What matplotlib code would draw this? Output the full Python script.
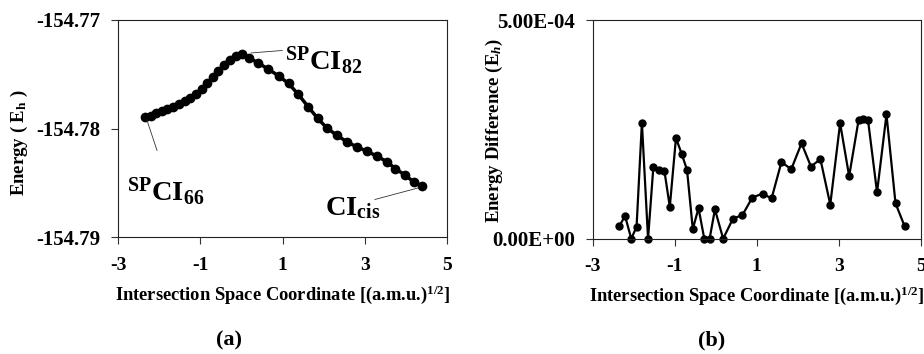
import matplotlib
matplotlib.use('Agg')
import matplotlib.pyplot as plt

plt.rcParams['font.family'] = ['Liberation Serif', 'DejaVu Serif']
plt.rcParams['font.weight'] = 'bold'
plt.rcParams['mathtext.fontset'] = 'custom'
plt.rcParams['mathtext.rm'] = 'Liberation Serif:bold'
plt.rcParams['mathtext.bf'] = 'Liberation Serif:bold'
plt.rcParams['mathtext.it'] = 'Liberation Serif:italic:bold'
plt.rcParams['mathtext.default'] = 'bf'

# ---- Panel (a): energy along intersection space coordinate ----
coord_a = [-2.35, -2.21, -2.07, -1.93, -1.80, -1.66, -1.52, -1.38, -1.25,
           -1.11, -0.97, -0.83, -0.69, -0.56, -0.42, -0.28, -0.14, 0.00,
           0.18, 0.41, 0.65, 0.90, 1.14, 1.38, 1.62, 1.85, 2.07, 2.31,
           2.56, 2.80, 3.04, 3.29, 3.53, 3.73, 3.97, 4.18, 4.38]
energy_a = [-154.77893, -154.77881, -154.77862, -154.77838, -154.77823,
            -154.77801, -154.77774, -154.77746, -154.77719, -154.77682,
            -154.77636, -154.77581, -154.77526, -154.77471, -154.77413,
            -154.77367, -154.77336, -154.77318,
            -154.77352, -154.77400, -154.77456, -154.77517, -154.77587,
            -154.77688, -154.77802, -154.77908, -154.77995, -154.78061,
            -154.78123, -154.78169, -154.78208, -154.78254, -154.78306,
            -154.78367, -154.78428, -154.78490, -154.78526]

# ---- Panel (b): energy difference ----
coord_b = [-2.35, -2.21, -2.06, -1.93, -1.80, -1.65, -1.52, -1.39, -1.25,
           -1.12, -0.97, -0.83, -0.70, -0.56, -0.42, -0.28, -0.15, -0.02,
           0.18, 0.42, 0.65, 0.89, 1.14, 1.36, 1.60, 1.84, 2.09, 2.32,
           2.55, 2.79, 3.03, 3.25, 3.48, 3.59, 3.71, 3.93, 4.16, 4.38, 4.60]
diff_b = [0.29e-4, 0.52e-4, 0.0, 0.27e-4, 2.65e-4, 0.0, 1.65e-4, 1.57e-4,
          1.54e-4, 0.73e-4, 2.30e-4, 1.94e-4, 1.57e-4, 0.22e-4, 0.70e-4,
          0.0, 0.0, 0.67e-4, 0.0, 0.46e-4, 0.54e-4, 0.94e-4, 1.03e-4,
          0.92e-4, 1.75e-4, 1.59e-4, 2.18e-4, 1.65e-4, 1.82e-4, 0.78e-4,
          2.64e-4, 1.43e-4, 2.71e-4, 2.74e-4, 2.71e-4, 1.06e-4, 2.84e-4,
          0.81e-4, 0.29e-4]

x_ticks = [-3, -1, 1, 3, 5]
x_ticklabels = ['-3', '-1', '1', '3', '5']
ya_ticks = [-154.79, -154.78, -154.77]
ya_ticklabels = ['-154.79', '-154.78', '-154.77']
yb_ticks = [0.0, 5e-4]
yb_ticklabels = ['0.00E+00', '5.00E-04']

xlabel = r'Intersection Space Coordinate [(a.m.u.)$^{\mathbf{1/2}}$]'

fig = plt.figure(figsize=(9.24, 3.54), dpi=100)
axA = fig.add_axes([0.1277, 0.3291, 0.3566, 0.6158])
axB = fig.add_axes([0.6414, 0.3257, 0.3553, 0.6178])

for ax in (axA, axB):
    ax.set_xlim(-3, 5)
    ax.set_xticks(x_ticks)
    ax.set_xticklabels(x_ticklabels)
    ax.tick_params(direction='out', length=5, width=0.8, color='#333333',
                   labelsize=14, pad=9)
    ax.tick_params(axis='y', labelsize=15, pad=7.5)
    for s in ax.spines.values():
        s.set_linewidth(0.8)
        s.set_color('#222222')
    ax.set_xlabel(xlabel, fontsize=13.3, fontweight='bold')
    ax.xaxis.set_label_coords(0.5, -0.262)
    ax.xaxis.label.set_va('center')

axA.plot(coord_a, energy_a, color='black', lw=2.5, marker='o', ms=6,
         clip_on=False)
axA.set_ylim(-154.79, -154.77)
axA.set_yticks(ya_ticks)
axA.set_yticklabels(ya_ticklabels)
axA.set_ylabel(r'Energy ( E$_{h}$ )', fontsize=13.5, fontweight='bold')
axA.yaxis.set_label_coords(-0.298, 0.433)
axA.yaxis.label.set_va('center')

axA.annotate('', xy=(0.16, -154.77309), xytext=(1.06, -154.77282),
             arrowprops=dict(arrowstyle='-', lw=0.6, color='#333333'))
axA.text(1.06, -154.77465, r'$^{SP}$CI$_{82}$', fontsize=20.5,
         fontweight='bold', ha='left', va='baseline')
axA.annotate('', xy=(-2.32, -154.77897), xytext=(-2.03, -154.78227),
             arrowprops=dict(arrowstyle='-', lw=0.6, color='#333333'))
axA.text(-2.78, -154.78658, r'$^{SP}$CI$_{66}$', fontsize=20.5,
         fontweight='bold', ha='left', va='baseline')
axA.annotate('', xy=(4.36, -154.78538), xytext=(3.17, -154.78658),
             arrowprops=dict(arrowstyle='-', lw=0.6, color='#333333'))
axA.text(2.03, -154.78796, r'CI$_{cis}$', fontsize=20.5,
         fontweight='bold', ha='left', va='baseline')

axB.plot(coord_b, diff_b, color='black', lw=1.6, marker='o', ms=5,
         clip_on=False)
axB.set_ylim(0, 5e-4)
axB.set_yticks(yb_ticks)
axB.set_yticklabels(yb_ticklabels)
axB.set_ylabel(r'Energy Difference (E$_{\mathit{h}}$)', fontsize=13.5,
               fontweight='bold')
axB.yaxis.set_label_coords(-0.300, 0.497)
axB.yaxis.label.set_va('center')

fig.text(229 / 924, 1 - 340 / 354, '(a)', fontsize=16, fontweight='bold',
         ha='center', va='center')
fig.text(712 / 924, 1 - 340 / 354, '(b)', fontsize=16, fontweight='bold',
         ha='center', va='center')

fig.savefig('out.png', dpi=100)
